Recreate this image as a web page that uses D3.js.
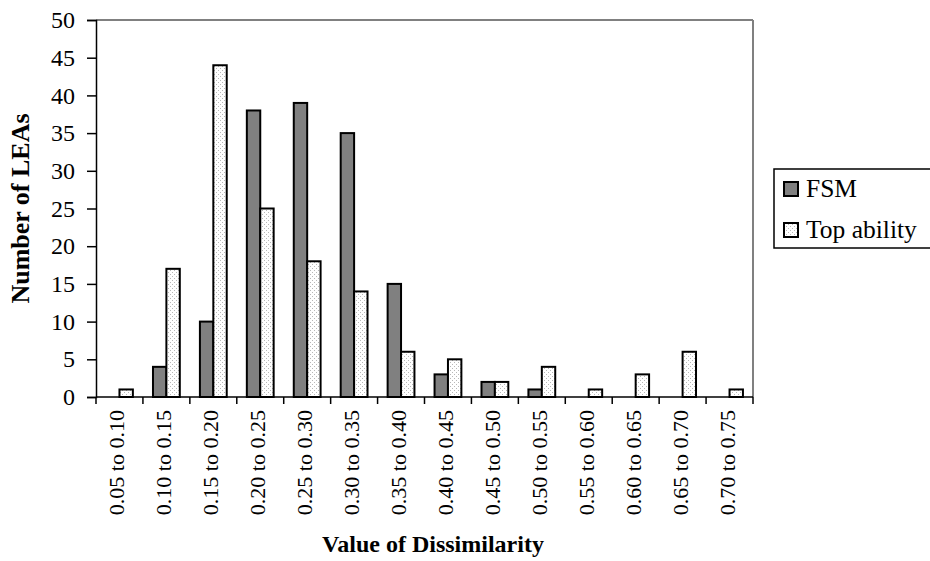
<!DOCTYPE html>
<html>
<head>
<meta charset="utf-8">
<script src="https://cdn.jsdelivr.net/npm/d3@7"></script>
<style>
  html, body { margin: 0; padding: 0; background: #fff; }
  svg { display: block; font-family: "Liberation Serif", "Times New Roman", serif; }
</style>
</head>
<body>
<svg id="chart" width="930" height="561"></svg>
<script>
// Dissimilarity bands and the number of LEAs falling in each
const categories = ["0.05 to 0.10", "0.10 to 0.15", "0.15 to 0.20", "0.20 to 0.25", "0.25 to 0.30",
  "0.30 to 0.35", "0.35 to 0.40", "0.40 to 0.45", "0.45 to 0.50", "0.50 to 0.55",
  "0.55 to 0.60", "0.60 to 0.65", "0.65 to 0.70", "0.70 to 0.75"];
const seriesNames = ["FSM", "Top ability"];
const fsmValues = [0, 4, 10, 38, 39, 35, 15, 3, 2, 1, 0, 0, 0, 0];
const topAbilityValues = [1, 17, 44, 25, 18, 14, 6, 5, 2, 4, 1, 3, 6, 1];
const yTicks = [0, 5, 10, 15, 20, 25, 30, 35, 40, 45, 50];

const svg = d3.select("#chart");
const plotLeft = 96, plotRight = 753, plotTop = 20, plotBottom = 397;

// Dotted fill for the "Top ability" bars
const defs = svg.append("defs");
const pat = defs.append("pattern")
  .attr("id", "dots").attr("patternUnits", "userSpaceOnUse")
  .attr("width", 4).attr("height", 4);
pat.append("rect").attr("width", 4).attr("height", 4).attr("fill", "#fff");
pat.append("rect").attr("x", 0).attr("y", 0).attr("width", 1).attr("height", 1).attr("fill", "#b8b8b8");
pat.append("rect").attr("x", 2).attr("y", 2).attr("width", 1).attr("height", 1).attr("fill", "#b8b8b8");

const x = d3.scaleBand().domain(categories).range([plotLeft, plotRight]).paddingInner(0).paddingOuter(0);
const y = d3.scaleLinear().domain([0, 50]).range([plotBottom, plotTop]);
const barW = x.bandwidth() / 3.5;
const sub = d3.scaleBand().domain(seriesNames).range([0.75 * barW, 2.75 * barW]);

const series = [
  { name: "FSM", values: fsmValues, fill: "#808080" },
  { name: "Top ability", values: topAbilityValues, fill: "url(#dots)" }
];

// Plot frame: top and right edges in grey
svg.append("line").attr("x1", plotLeft).attr("x2", plotRight).attr("y1", plotTop).attr("y2", plotTop)
  .attr("stroke", "#808080").attr("stroke-width", 2);
svg.append("line").attr("x1", plotRight).attr("x2", plotRight).attr("y1", plotTop).attr("y2", plotBottom)
  .attr("stroke", "#808080").attr("stroke-width", 2);

// Bars
series.forEach(s => {
  svg.append("g").selectAll("rect")
    .data(categories.map((c, i) => ({ c, v: s.values[i] })).filter(d => d.v > 0))
    .join("rect")
    .attr("x", d => x(d.c) + sub(s.name))
    .attr("y", d => y(d.v))
    .attr("width", sub.bandwidth())
    .attr("height", d => y(0) - y(d.v))
    .attr("fill", s.fill)
    .attr("stroke", "#000")
    .attr("stroke-width", 2);
});

// Y axis
const yAxis = d3.axisLeft(y).tickValues(yTicks).tickSize(9).tickPadding(12).tickFormat(d3.format("d"));
const gy = svg.append("g").attr("transform", `translate(${plotLeft},0)`).call(yAxis);
gy.select(".domain").attr("stroke", "#000").attr("stroke-width", 1.5);
gy.selectAll(".tick line").attr("stroke", "#000").attr("stroke-width", 1.5);
gy.selectAll(".tick text").attr("font-size", 24).attr("font-family", "Liberation Serif").attr("fill", "#000");

// X axis: tick marks on band boundaries, rotated labels at band centres
const gx = svg.append("g").attr("transform", `translate(0,${plotBottom})`);
gx.append("line").attr("x1", plotLeft).attr("x2", plotRight).attr("stroke", "#000").attr("stroke-width", 1.5);
const boundaries = categories.map(c => x(c)).concat([plotRight]);
gx.selectAll(".tk").data(boundaries).join("line")
  .attr("x1", d => d).attr("x2", d => d).attr("y1", 0).attr("y2", 7)
  .attr("stroke", "#000").attr("stroke-width", 1.5);
gx.selectAll(".lbl").data(categories).join("text")
  .attr("transform", d => `translate(${x(d) + x.bandwidth() / 2 + 5},13) rotate(-90)`)
  .attr("text-anchor", "end")
  .attr("font-size", 22)
  .attr("fill", "#000")
  .text(d => d);

// Axis titles
svg.append("text")
  .attr("transform", `translate(29,${(plotTop + plotBottom) / 2}) rotate(-90)`)
  .attr("text-anchor", "middle")
  .attr("font-size", 26).attr("font-weight", "bold")
  .text("Number of LEAs");
svg.append("text")
  .attr("x", 433).attr("y", 552)
  .attr("text-anchor", "middle")
  .attr("font-size", 24).attr("font-weight", "bold")
  .text("Value of Dissimilarity");

// Legend
const lg = svg.append("g");
lg.append("rect").attr("x", 774).attr("y", 169).attr("width", 170).attr("height", 79)
  .attr("fill", "#fff").attr("stroke", "#000").attr("stroke-width", 1.5);
series.forEach((s, i) => {
  const yy = 182 + i * 41;
  lg.append("rect").attr("x", 784).attr("y", yy).attr("width", 14).attr("height", 14)
    .attr("fill", s.fill).attr("stroke", "#000").attr("stroke-width", 2);
  lg.append("text").attr("x", 806).attr("y", yy + 15).attr("font-size", 25.5).text(s.name);
});
</script>
</body>
</html>
